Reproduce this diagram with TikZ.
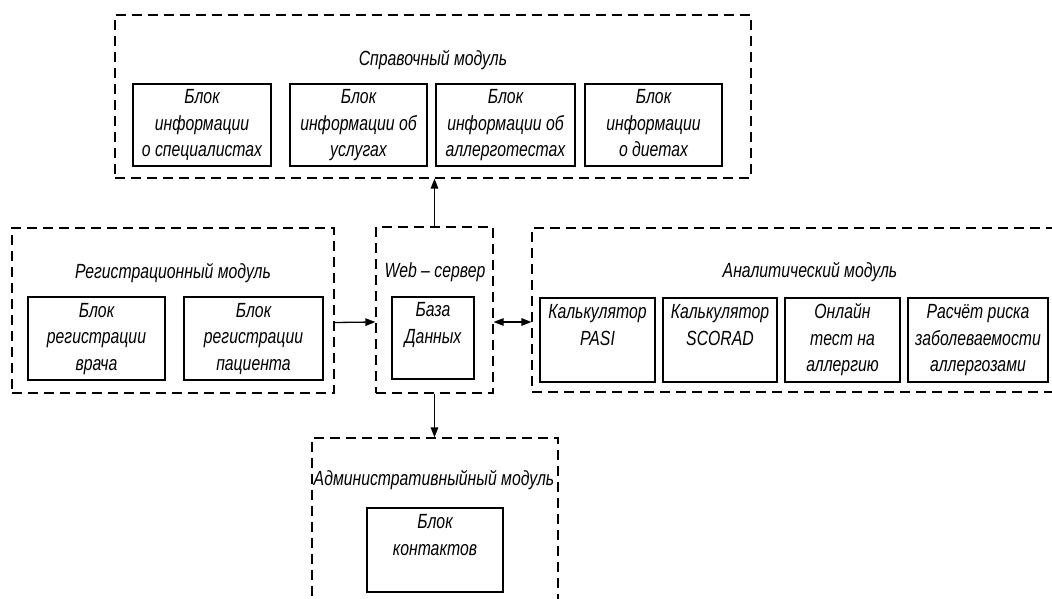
\documentclass[tikz,border=0pt]{standalone}
\usepackage{fontspec}
\setmainfont{Liberation Sans}[FakeStretch=0.77]
\usetikzlibrary{arrows.meta}
\begin{document}
\begin{tikzpicture}[x=1pt,y=-1pt,
  module/.style={draw, line width=1.2pt, dash pattern=on 10pt off 6pt, inner sep=0pt},
  blockbox/.style={draw, line width=1.3pt, align=center, inner sep=0pt,
    font=\fontsize{20.5}{26.5}\selectfont\itshape},
  title/.style={font=\fontsize{20.5}{26.5}\selectfont\itshape, inner sep=0pt},
  arr/.style={line width=1.3pt, -{Triangle[length=10pt,width=7.5pt]}},
  darr/.style={line width=1.3pt, {Triangle[length=10pt,width=7.5pt]}-{Triangle[length=10pt,width=7.5pt]}}]
\useasboundingbox (0,0) rectangle (1052,599);
% modules
\node[module, minimum width=636pt, minimum height=163pt] (sprav) at (433,96.5) {};
\node[module, minimum width=322pt, minimum height=165pt] (reg) at (173,310.5) {};
\node[module, minimum width=117pt, minimum height=166pt] (web) at (434.5,310) {};
\node[module, minimum width=548pt, minimum height=164pt] (ana) at (806,310) {};
\node[module, minimum width=246pt, minimum height=192pt] (adm) at (435,534) {};
% titles
\node[title] (spravt) at (433,60) {Справочный модуль};
\node[title] (regt) at (173,273) {Регистрационный модуль};
\node[title] (webt) at (435,272) {Web – сервер};
\node[title] (anat) at (810,272) {Аналитический модуль};
\node[title] (admt) at (434,480) {Административныйный модуль};
% sprav blocks
\node[blockbox, minimum width=138pt, minimum height=82pt] (s1) at (202,125) {Блок\strut\\информации\strut\\о специалистах\strut};
\node[blockbox, minimum width=137pt, minimum height=82pt] (s2) at (358.5,125) {Блок\strut\\информации об\strut\\услугах\strut};
\node[blockbox, minimum width=139pt, minimum height=82pt] (s3) at (505.5,125) {Блок\strut\\информации об\strut\\аллерготестах\strut};
\node[blockbox, minimum width=137pt, minimum height=82pt] (s4) at (653.5,125) {Блок\strut\\информации\strut\\о диетах\strut};
% reg blocks
\node[blockbox, minimum width=137pt, minimum height=83pt] (r1) at (96.5,338.5) {Блок\strut\\регистрации\strut\\врача\strut};
\node[blockbox, minimum width=139pt, minimum height=83pt] (r2) at (253.5,338.5) {Блок\strut\\регистрации\strut\\пациента\strut};
% db
\node[blockbox, minimum width=82pt, minimum height=82pt] (db) at (433,338) {База\strut\\Данных\strut\\\strut};
% analytic blocks
\node[blockbox, minimum width=115pt, minimum height=84pt] (a1) at (597.5,340) {Калькулятор\strut\\PASI\strut\\\strut};
\node[blockbox, minimum width=114pt, minimum height=84pt] (a2) at (720,340) {Калькулятор\strut\\SCORAD\strut\\\strut};
\node[blockbox, minimum width=115pt, minimum height=84pt] (a3) at (842.5,340) {Онлайн\strut\\тест на\strut\\аллергию\strut};
\node[blockbox, minimum width=140pt, minimum height=84pt] (a4) at (978,340) {Расчёт риска\strut\\заболеваемости\strut\\аллергозами\strut};
% admin block
\node[blockbox, minimum width=136pt, minimum height=84pt] (c1) at (435,550) {Блок\strut\\контактов\strut\\\strut};
% connectors
\draw[arr] (web.north) -- (web.north |- sprav.south);
\draw[arr] (web.south) -- (web.south |- adm.north);
\draw[arr] ([yshift=-12pt]reg.east) -- ([yshift=-12pt]web.west);
\draw[darr] ([yshift=-12pt]web.east) -- ([yshift=-12pt]web.east -| ana.west);
\end{tikzpicture}
\end{document}
